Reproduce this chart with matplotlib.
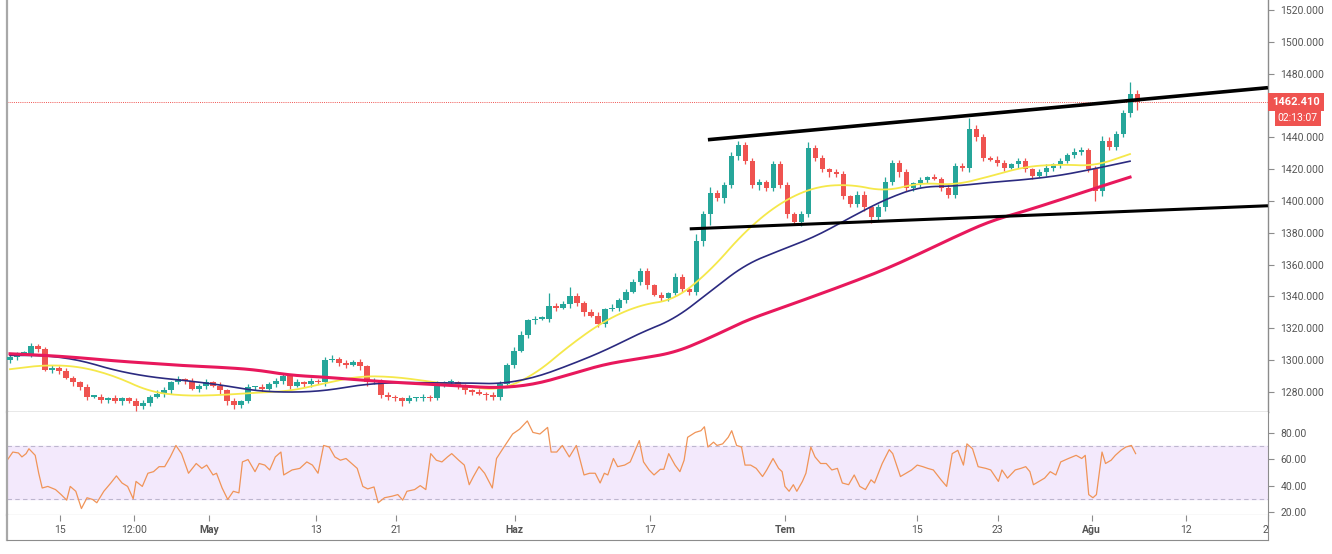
import matplotlib.pyplot as plt
import numpy as np

plt.rcParams['font.family'] = ['Roboto', 'DejaVu Sans']

# Candles (one slot per bar index), opens follow the previous close
first_open = 1300
closes = [
    1302, 1304, 1304, 1309, 1307, 1294, 1295, 1293, 1289, 1286,
    1283, 1277, 1277, 1275, 1276, 1274, 1276, 1274, 1271, 1273,
    1277, 1279, 1281, 1286, 1288, 1287, 1282, 1284, 1286, 1284,
    1281, 1274, 1272, 1274, 1283, 1283, 1282, 1285, 1287, 1290,
    1284, 1286, 1285, 1287, 1286, 1300, 1301, 1298, 1297, 1299,
    1296, 1286, 1287, 1278, 1277, 1276, 1274, 1276, 1276, 1277,
    1276, 1285, 1286, 1286, 1283, 1281, 1280, 1279, 1278, 1277,
    1285, 1297, 1306, 1316, 1325, 1326, 1326, 1334, 1333, 1335,
    1340, 1336, 1330, 1328, 1323, 1332, 1333, 1338, 1343, 1349,
    1356, 1347, 1341, 1339, 1342, 1352, 1345, 1343, 1375, 1392,
    1405, 1402, 1410, 1428, 1435, 1425, 1410, 1412, 1408, 1423,
    1410, 1392, 1387, 1392, 1433, 1427, 1420, 1418, 1417, 1403,
    1398, 1404, 1396, 1390, 1396, 1412, 1424, 1418, 1408, 1411,
    1413, 1415, 1414, 1408, 1404, 1422, 1421, 1445, 1440, 1427,
    1426, 1424, 1421, 1423, 1425, 1420, 1416, 1418, 1421, 1423,
    1425, 1429, 1431, 1432, 1420, 1406, 1438, 1434, 1442, 1455,
    1467, 1462.41]
wick_up = [
    2, 1, 2, 2, 1, 1, 2, 1, 2, 1,
    1, 2, 1, 2, 1, 2, 1, 1, 2, 2,
    1, 2, 2, 1, 2, 1, 2, 1, 2, 1,
    2, 1, 2, 1, 2, 1, 2, 1, 2, 2,
    1, 2, 1, 2, 1, 2, 2, 1, 2, 1,
    2, 1, 2, 1, 2, 1, 1, 2, 1, 2,
    1, 2, 1, 2, 1, 2, 1, 2, 1, 2,
    2, 1, 2, 2, 1, 2, 2, 8, 2, 2,
    6, 2, 1, 2, 2, 1, 2, 1, 2, 2,
    2, 2, 1, 2, 1, 3, 2, 1, 4, 2,
    4, 2, 2, 3, 3, 2, 2, 2, 1, 2,
    2, 2, 1, 2, 4, 2, 2, 1, 2, 2,
    1, 2, 2, 1, 2, 3, 2, 2, 2, 1,
    2, 1, 2, 1, 2, 2, 2, 7, 3, 2,
    1, 2, 2, 1, 2, 2, 1, 2, 2, 1,
    2, 1, 2, 2, 1, 2, 3, 2, 2, 2,
    8, 3]
wick_dn = [
    2, 2, 1, 2, 2, 1, 2, 2, 1, 2,
    2, 2, 1, 2, 2, 1, 2, 1, 3, 2,
    2, 1, 2, 2, 1, 2, 1, 2, 2, 1,
    2, 2, 3, 2, 1, 2, 2, 1, 2, 2,
    2, 1, 2, 2, 1, 2, 1, 2, 2, 1,
    2, 2, 1, 2, 2, 2, 3, 1, 2, 2,
    2, 1, 2, 2, 1, 2, 2, 1, 3, 2,
    2, 1, 2, 1, 2, 2, 1, 2, 2, 1,
    2, 2, 2, 1, 2, 2, 1, 2, 2, 1,
    2, 2, 1, 2, 2, 1, 2, 2, 2, 3,
    7, 2, 3, 2, 2, 2, 2, 3, 2, 2,
    2, 3, 2, 3, 2, 2, 2, 3, 2, 2,
    2, 2, 2, 4, 2, 2, 2, 3, 2, 2,
    2, 2, 1, 2, 2, 2, 2, 3, 2, 2,
    1, 2, 2, 1, 2, 2, 2, 1, 2, 2,
    2, 1, 2, 2, 2, 6, 3, 2, 2, 2,
    2, 5]

# Moving averages sampled every 5 bars
ma_x = list(range(0, 165, 5))
ma50 = [1294.3, 1297, 1296, 1290, 1280, 1277.5, 1278, 1279.5, 1280.5, 1285.5,
        1290, 1289.5, 1286.5, 1283.5, 1281, 1291, 1309.5, 1325, 1334.7, 1338,
        1356, 1381, 1399, 1409, 1410.5, 1406, 1411.5, 1410, 1415.5, 1421.6,
        1423, 1422, 1429.5]
ma100 = [1303, 1303, 1300, 1293.5, 1289.4, 1287.2, 1284.5, 1280.7, 1279.7, 1280.7,
         1284.5, 1286, 1285.7, 1285.7, 1285, 1289, 1297, 1306, 1317, 1326,
         1343, 1360, 1369, 1377.5, 1389.5, 1401, 1409, 1409.3, 1411.7, 1413.4,
         1416, 1420.3, 1425]
ma200 = [1304, 1303, 1301.5, 1299.5, 1298, 1296.5, 1295.5, 1294, 1290.5, 1289.3,
         1287.5, 1286, 1284.8, 1283.5, 1282.5, 1284.8, 1291, 1297.5, 1301, 1304.8,
         1314, 1324.7, 1332.5, 1340.4, 1348.5, 1357, 1367, 1377.5, 1387.3, 1393.7,
         1400.7, 1408, 1415]

# Channel lines (bar index, price)
upper_line = ([99.7, 179.7], [1438.5, 1471.2])
lower_line = ([97.1, 179.7], [1382.5, 1397.0])

# RSI (bar index, value)
rsi_x = [-0.4, 0.4, 1.2, 1.7, 2.3, 2.7, 3.6, 4.1, 4.6, 5.4, 6.5, 7.3, 8.1, 8.6, 9.4,
         10.2, 11.0, 11.8, 12.4, 13.4, 14.4, 15.2, 16.0, 16.8, 17.6, 18.0, 18.9,
         19.7, 20.5, 21.3, 22.1, 22.9, 23.7, 24.5, 25.5, 26.6, 27.4, 28.1, 29.0,
         29.5, 30.3, 31.1, 31.9, 32.7, 33.2, 34.0, 35.0, 35.6, 36.4, 37.1, 37.9,
         38.7, 39.1, 40.3, 41.4, 42.4, 43.2, 44.0, 44.8, 45.6, 46.4, 47.2, 48.0,
         48.8, 49.6, 50.4, 51.1, 52.0, 52.6, 53.5, 54.6, 55.4, 56.1, 56.7, 57.8,
         58.6, 59.4, 60.1, 60.9, 61.7, 62.5, 63.1, 64.1, 64.9, 65.6, 66.2, 67.0,
         67.8, 68.9, 69.5, 70.4, 71.8, 72.8, 73.9, 74.7, 75.7, 76.8, 77.3, 78.1,
         78.9, 79.9, 80.9, 82.0, 82.8, 83.6, 84.3, 84.9, 85.4, 86.2, 86.8, 87.8,
         88.6, 89.1, 89.9, 90.5, 91.3, 92.0, 92.9, 93.4, 94.1, 95.0, 95.7, 96.3,
         96.8, 97.9, 98.7, 99.2, 99.7, 100.5, 101.0, 101.8, 102.6, 103.1, 103.8,
         104.5, 105.0, 105.8, 106.6, 107.5, 108.1, 109.0, 109.8, 110.3, 110.7,
         111.3, 111.9, 112.4, 113.2, 113.7, 114.4, 115.0, 115.8, 116.6, 117.4,
         118.2, 118.9, 119.8, 120.6, 121.4, 122.2, 123.0, 123.5, 124.6, 125.6,
         126.1, 127.2, 128.0, 128.8, 129.6, 130.4, 131.1, 131.9, 133.0, 133.8,
         134.6, 135.4, 136.2, 136.7, 137.5, 138.3, 139.4, 140.1, 141.2, 141.7,
         142.5, 143.6, 144.4, 145.1, 145.7, 146.2, 147.0, 147.8, 148.6, 149.4,
         150.1, 151.2, 152.3, 153.1, 153.6, 154.1, 154.7, 155.2, 156.0, 156.5,
         157.3, 157.9, 158.7, 159.4, 160.2, 160.8]
rsi = [59.3, 65.5, 64.8, 61.8, 64.3, 68, 63, 49.4, 38.2, 39.4, 37, 33.2, 29, 39.4, 35.7,
       22.6, 30.8, 29.5, 27, 35.7, 42, 47.4, 42, 39.4, 30, 43.2, 39.4,
       49.4, 50.6, 54.4, 54.4, 61.8, 70.5, 64.3, 49.4, 56.8, 53.1, 55.6, 48.1,
       49.4, 38.2, 29.5, 35.7, 34.5, 58, 59.8, 50.6, 56.8, 55.6, 51.9, 61.8,
       65.5, 48.1, 51.9, 53.1, 58, 55.6, 49.4, 70.5, 69.3, 61.8, 59.3, 60.6,
       56.8, 53.1, 39.4, 37.5, 39, 27, 30.8, 32, 33.2, 29, 35.7, 37,
       40, 37, 64.3, 59.3, 58, 61.8, 64.3, 59.3, 55.6, 40.7, 46.9, 54.4,
       49.4, 38.2, 60.6, 68, 79.2, 82.9, 89.1, 80.4, 79.2, 84.2, 65.5, 65.5,
       70.5, 61.8, 70.5, 48.1, 49.4, 49.4, 42, 49.4, 48.1, 60.6, 54.4, 55.6,
       58, 64.3, 74.2, 58, 51.9, 48.1, 52.4, 52.4, 64.3, 55.6, 50.6, 59.3,
       76.7, 80.4, 81.7, 84.7, 69.3, 73, 70.5, 71.7, 76.7, 81.7, 70.5,
       69.3, 55.6, 55.6, 53.1, 46.9, 51.9, 60.6, 53.1, 50.6, 39.4,
       35.7, 40.7, 35.7, 43.2, 49.4, 69.3, 61.8, 56.8, 56.8, 51.9,
       53.1, 42, 40.7, 48.1, 39.4, 37, 44.4, 42, 56.8, 67.3,
       64.3, 46.9, 49.4, 51.9, 55.6, 54.4, 53.1, 51.9, 44.4, 39.4,
       64.3, 66.8, 55.6, 71.7, 68, 54.4, 53.1, 51.9, 43.2, 51.9,
       45.7, 51.9, 53.1, 54.4, 50.6, 40.7, 43.2, 45.7, 50.6, 48.1,
       58, 60.6, 63, 60.6, 63, 33.2, 30.8, 33.2, 65.5, 56.8,
       59.3, 63, 66.8, 69.3, 70.5, 64.3]

# Time axis
tick_pos = [7.2, 17.7, 28.4, 43.7, 55.2, 72.1, 91.4, 110.7, 129.6, 141.1, 154.5, 168.0, 179.7]
tick_labels = ['15', '12:00', 'May', '13', '21', 'Haz', '17', 'Tem', '15', '23', 'Ağu', '12', '20']
month_labels = ['May', 'Haz', 'Tem', 'Ağu']

price_ticks = [1280, 1300, 1320, 1340, 1360, 1380, 1400, 1420, 1440, 1480, 1500, 1520]
rsi_ticks = [20, 40, 60, 80]
last_price = 1462.41
countdown = '02:13:07'


def chaikin(xs, ys, rounds=3):
    # corner cutting so the sampled averages draw as smooth curves
    pts = np.column_stack([xs, ys]).astype(float)
    for _ in range(rounds):
        q = 0.75 * pts[:-1] + 0.25 * pts[1:]
        r = 0.25 * pts[:-1] + 0.75 * pts[1:]
        mid = np.empty((2 * len(q), 2))
        mid[0::2], mid[1::2] = q, r
        pts = np.vstack([pts[:1], mid, pts[-1:]])
    return pts[:, 0], pts[:, 1]


W, H = 1332, 554
fig = plt.figure(figsize=(W / 100, H / 100), dpi=100)
fig.patch.set_facecolor('white')

x_left, x_right = 7, 1268


def box(top, bottom):
    return [x_left / W, 1 - bottom / H, (x_right - x_left) / W, (bottom - top) / H]


ax = fig.add_axes(box(0, 412))
ax_r = fig.add_axes(box(412, 515), sharex=ax)
ax_t = fig.add_axes(box(515, 540), sharex=ax)

grey = '#8c8c8c'
text_grey = '#555555'

# --- price pane ---
closes_a = np.array(closes, dtype=float)
opens_a = np.concatenate([[first_open], closes_a[:-1]])
idx = np.arange(len(closes_a))
up = closes_a >= opens_a
colors = np.where(up, '#26a69a', '#ef5350')
body_top = np.maximum(opens_a, closes_a)
body_bot = np.minimum(opens_a, closes_a)
ax.vlines(idx, body_bot - np.array(wick_dn), body_top + np.array(wick_up),
          colors=colors, linewidth=0.9, zorder=3)
ax.bar(idx, np.maximum(body_top - body_bot, 0.8), bottom=body_bot, width=0.72,
       color=colors, linewidth=0, zorder=4)

ax.plot(*chaikin(ma_x, ma50), color='#f5e84a', linewidth=1.3, zorder=5)
ax.plot(*chaikin(ma_x, ma100), color='#2b2a80', linewidth=1.2, zorder=5)
ax.plot(*chaikin(ma_x, ma200), color='#e8185c', linewidth=2.2, zorder=5)

ax.plot(*upper_line, color='black', linewidth=2.6, zorder=6, solid_capstyle='butt')
ax.plot(*lower_line, color='black', linewidth=2.2, zorder=6, solid_capstyle='butt')

ax.axhline(last_price, color='#ef5350', linewidth=0.7, linestyle=(0, (1, 1.2)), zorder=2)

ax.set_xlim(-0.43, 179.71)
ax.set_ylim(1267.4, 1526.3)
ax.yaxis.tick_right()
ax.set_yticks(price_ticks)
ax.set_yticklabels([f'{v:.3f}' for v in price_ticks])
ax.tick_params(axis='y', length=4, width=0.8, color=grey, labelsize=7.5,
               labelcolor=text_grey, pad=5)
ax.tick_params(axis='x', bottom=False, labelbottom=False)
ax.spines['top'].set_visible(False)
for side in ['left', 'right', 'bottom']:
    ax.spines[side].set_color(grey)
    ax.spines[side].set_linewidth(1.0)
ax.spines['left'].set_linewidth(1.6)
ax.spines['left'].set_color('#a8a8a8')

ax.annotate(f'{last_price:.3f}', xy=(1.0, last_price), xycoords=ax.get_yaxis_transform(),
            xytext=(3, 0), textcoords='offset points', ha='left', va='center',
            fontsize=8, color='white', fontweight='bold',
            bbox=dict(boxstyle='square,pad=0.35', fc='#ef5350', ec='none'),
            annotation_clip=False)
ax.annotate(countdown, xy=(1.0, last_price), xycoords=ax.get_yaxis_transform(),
            xytext=(7, -12), textcoords='offset points', ha='left', va='center',
            fontsize=7.5, color='white',
            bbox=dict(boxstyle='square,pad=0.3', fc='#ef5350', ec='none'),
            annotation_clip=False)

# --- RSI pane ---
ax_r.axhspan(30, 70, color='#f3e9fc', zorder=0)
ax_r.axhline(70, color='#bdb6cf', linewidth=0.8, linestyle=(0, (4, 3)))
ax_r.axhline(30, color='#bdb6cf', linewidth=0.8, linestyle=(0, (4, 3)))
ax_r.plot(rsi_x, rsi, color='#f09458', linewidth=0.9)
ax_r.set_ylim(17.7, 95.9)
ax_r.yaxis.tick_right()
ax_r.set_yticks(rsi_ticks)
ax_r.set_yticklabels([f'{v:.2f}' for v in rsi_ticks])
ax_r.tick_params(axis='y', length=4, width=0.8, color=grey, labelsize=7.5,
                 labelcolor=text_grey, pad=5)
ax_r.tick_params(axis='x', bottom=False, labelbottom=False)
ax_r.spines['top'].set_visible(False)
for side in ['left', 'right', 'bottom']:
    ax_r.spines[side].set_color(grey)
ax_r.spines['left'].set_linewidth(1.6)
ax_r.spines['left'].set_color('#a8a8a8')

# --- time axis ---
ax_t.set_ylim(0, 1)
ax_t.set_yticks([])
ax_t.set_xticks(tick_pos)
ax_t.xaxis.set_ticks_position('top')
ax_t.tick_params(axis='x', direction='in', length=4, width=0.8, color=grey,
                 labeltop=False, labelbottom=False)
ax_t.spines['top'].set_visible(False)
for side in ['left', 'right', 'bottom']:
    ax_t.spines[side].set_color(grey)
ax_t.spines['left'].set_linewidth(1.6)
ax_t.spines['left'].set_color('#a8a8a8')
for pos, lab in zip(tick_pos, tick_labels):
    ax_t.text(pos, 0.4, lab, ha='center', va='center', fontsize=7.5, color=text_grey,
              fontweight='bold' if lab in month_labels else 'normal', clip_on=True)

fig.savefig('out.png', dpi=100, facecolor='white')
